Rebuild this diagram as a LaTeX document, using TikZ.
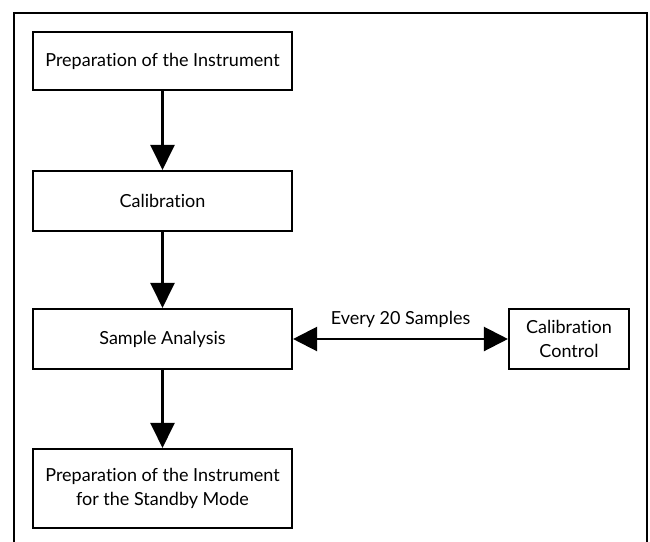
\documentclass[tikz,border=0pt]{standalone}
\usepackage{fontspec}
\setmainfont{Lato}[Ligatures=NoCommon]
\usetikzlibrary{arrows.meta}
\begin{document}
\begin{tikzpicture}[x=1pt,y=-1pt,
  txt/.style={font=\fontsize{18}{24.5}\selectfont},
  stepbox/.style={draw,line width=2.1pt,txt,align=center,inner sep=0pt},
  flow/.style={line width=2.2pt,-{Triangle[length=25pt,width=24pt]}},
  both/.style={line width=2.2pt,{Triangle[length=24pt,width=24pt]}-{Triangle[length=24pt,width=24pt]}}]
\useasboundingbox (0,0) rectangle (650,541);
\draw[line width=2pt] (14,545) -- (14,13) -- (647,13) -- (647,545);
\node[stepbox,minimum width=259pt,minimum height=58pt] (prep) at (162.5,61) {Preparation of the Instrument};
\node[stepbox,minimum width=259pt,minimum height=60pt] (cal) at (162.5,201) {Calibration};
\node[stepbox,minimum width=259pt,minimum height=60pt] (sa) at (162.5,339) {Sample Analysis};
\node[stepbox,minimum width=259pt,minimum height=79pt] (stb) at (162.5,488.5) {Preparation of the Instrument\\for the Standby Mode};
\node[stepbox,minimum width=120pt,minimum height=60pt] (cc) at (569,339) {Calibration\\Control};
\draw[flow] (prep) -- (cal);
\draw[flow] (cal) -- (sa);
\draw[flow] (sa) -- (stb);
\draw[both] (sa) -- node[above=7pt,txt]{Every 20 Samples} (cc);
\end{tikzpicture}
\end{document}
